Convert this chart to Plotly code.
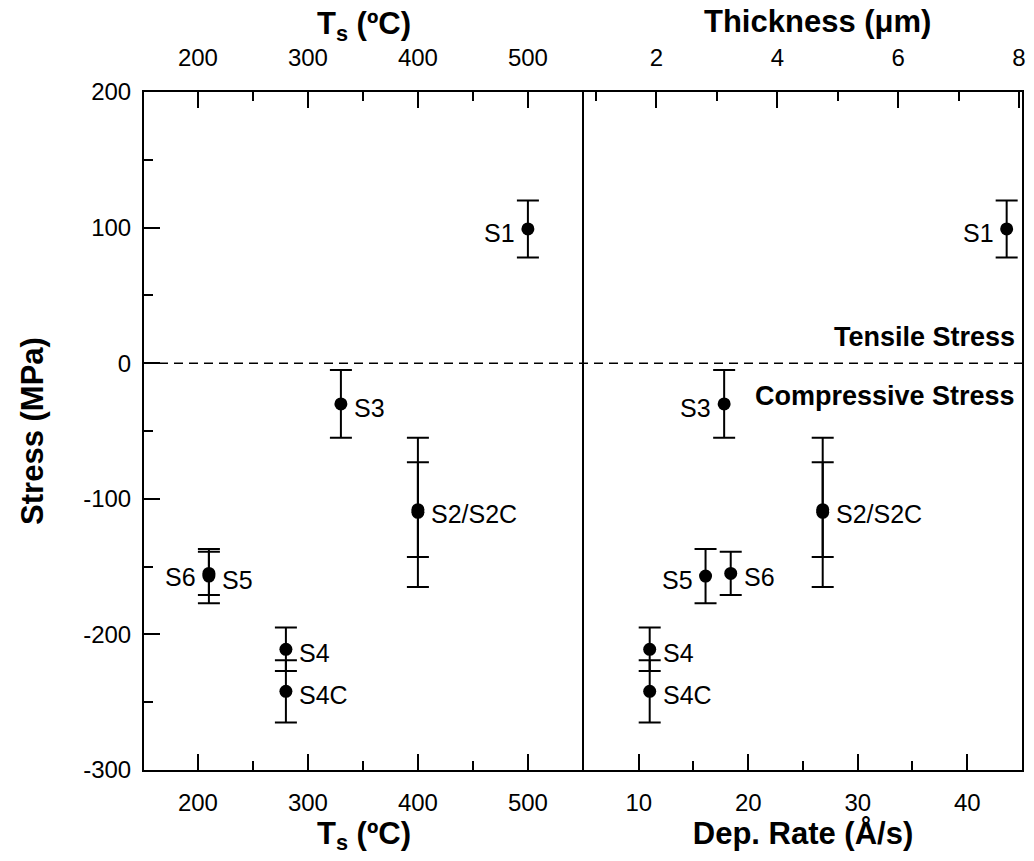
import plotly.graph_objects as go

# ---- data ----
samples = ["S1", "S2", "S2C", "S3", "S4", "S4C", "S5", "S6"]
ts_c = [500, 400, 400, 330, 280, 280, 210, 210]            # substrate temperature (ºC)
dep_rate = [43.6, 26.8, 26.8, 17.8, 11.0, 11.0, 16.1, 18.4]  # deposition rate (Å/s)
stress = [99, -108, -110, -30, -211, -242, -157, -155]      # MPa
stress_err = [21, 35, 55, 25, 16, 23, 20, 16]                # MPa

ts_ticks = [200, 300, 400, 500]
ts_minor = [250, 350, 450, 550]
rate_ticks = [10, 20, 30, 40]
rate_minor = [5, 15, 25, 35]
thick_ticks = [2, 4, 6, 8]
thick_minor = [1, 3, 5, 7]
stress_ticks = [-300, -200, -100, 0, 100, 200]
stress_minor = [-250, -150, -50, 50, 150]

# label placement (which side of the point each label sits)
left_labels = [("S1", 0, "l"), ("S2/S2C", 1, "r"), ("S3", 3, "r"), ("S4", 4, "r"),
               ("S4C", 5, "r"), ("S5", 6, "r"), ("S6", 7, "l")]
right_labels = [("S1", 0, "l"), ("S2/S2C", 1, "r"), ("S3", 3, "l"), ("S4", 4, "r"),
                ("S4C", 5, "r"), ("S5", 6, "l"), ("S6", 7, "r")]

FONT = "Liberation Sans, Arial, Helvetica, sans-serif"
BLACK = "black"
SPLIT = 442 / 882

fig = go.Figure()

err_style = dict(type="data", thickness=2, width=11, color=BLACK)
fig.add_trace(go.Scatter(x=ts_c, y=stress, mode="markers", xaxis="x", yaxis="y",
                         marker=dict(color=BLACK, size=13),
                         error_y=dict(array=stress_err, **err_style),
                         showlegend=False, hoverinfo="skip"))
fig.add_trace(go.Scatter(x=dep_rate, y=stress, mode="markers", xaxis="x3", yaxis="y2",
                         marker=dict(color=BLACK, size=13),
                         error_y=dict(array=stress_err, **err_style),
                         showlegend=False, hoverinfo="skip"))
# empty traces so that the top axes are drawn
fig.add_trace(go.Scatter(x=[], y=[], xaxis="x2", yaxis="y", showlegend=False))
fig.add_trace(go.Scatter(x=[], y=[], xaxis="x4", yaxis="y2", showlegend=False))

tickfont = dict(family=FONT, size=24, color=BLACK)
titlefont = dict(family=FONT, size=31, color=BLACK)

common_x = dict(showline=True, linecolor=BLACK, linewidth=2, ticks="inside", ticklen=16,
                tickwidth=1.5, tickcolor=BLACK, showgrid=False, zeroline=False,
                tickfont=tickfont, tickmode="array")
minor_style = dict(ticks="inside", ticklen=9, tickwidth=1.5, tickcolor=BLACK, tickmode="array")

ts_range = [151, 551]
rate_range = [5, 45]
thick_range = [0.8, 8.05]

fig.update_layout(
    width=1034, height=861,
    margin=dict(l=144, r=8, t=92, b=91),
    paper_bgcolor="white", plot_bgcolor="white",
    font=dict(family=FONT, color=BLACK),
    xaxis=dict(domain=[0, SPLIT], range=ts_range, anchor="y", side="bottom",
               tickvals=ts_ticks, minor=dict(tickvals=ts_minor, **minor_style),
               title=dict(text="<b>T<sub>s</sub> (ºC)</b>", font=titlefont, standoff=6),
               ticklabelstandoff=10, **common_x),
    xaxis2=dict(domain=[0, SPLIT], range=ts_range, anchor="y", side="top", overlaying="x",
                tickvals=ts_ticks, minor=dict(tickvals=ts_minor, **minor_style),
                ticklabelstandoff=14, **common_x),
    xaxis3=dict(domain=[SPLIT, 1], range=rate_range, anchor="y2", side="bottom",
                tickvals=rate_ticks, minor=dict(tickvals=rate_minor, **minor_style),
                title=dict(text="<b>Dep. Rate (Å/s)</b>", font=titlefont, standoff=6),
                ticklabelstandoff=10, **common_x),
    xaxis4=dict(domain=[SPLIT, 1], range=thick_range, anchor="y2", side="top", overlaying="x3",
                tickvals=thick_ticks, minor=dict(tickvals=thick_minor, **minor_style),
                ticklabelstandoff=14, **common_x),
    yaxis=dict(range=[-300, 200], anchor="x", showline=True, mirror=False, linecolor=BLACK,
               linewidth=2, ticks="inside", ticklen=16, tickwidth=1.5, tickcolor=BLACK,
               tickmode="array", tickvals=stress_ticks,
               ticktext=[str(v) for v in stress_ticks], tickfont=tickfont,
               minor=dict(tickvals=stress_minor, **minor_style),
               showgrid=False, zeroline=False, ticklabelstandoff=6,
               title=dict(text="<b>Stress (MPa)</b>", font=titlefont, standoff=30)),
    yaxis2=dict(range=[-300, 200], anchor="x3", matches="y", showline=True, mirror=True,
                linecolor=BLACK, linewidth=2, ticks="", showticklabels=False,
                showgrid=False, zeroline=False),
)

# top axis titles (placed as text above each panel)
fig.add_annotation(x=SPLIT / 2, y=1 + (92 - 26) / 678, xref="paper", yref="paper",
                   text="<b>T<sub>s</sub> (ºC)</b>", showarrow=False, font=titlefont,
                   xanchor="center", yanchor="middle")
fig.add_annotation(x=(821 - 144) / 882, y=1 + (92 - 22) / 678, xref="paper", yref="paper",
                   text="<b>Thickness (μm)</b>", showarrow=False, font=titlefont,
                   xanchor="center", yanchor="middle")

# dashed zero line across both panels
fig.add_shape(type="line", xref="paper", yref="y", x0=0, x1=1, y0=0, y1=0,
              line=dict(color=BLACK, width=1.5, dash="9px,6px"))

labfont = dict(family=FONT, size=25, color=BLACK)
def add_labels(items, xs, xref, yref):
    for text, i, side in items:
        fig.add_annotation(x=xs[i], y=stress[i], xref=xref, yref=yref, text=text,
                           showarrow=False, font=labfont,
                           xanchor="right" if side == "l" else "left",
                           xshift=-11 if side == "l" else 11, yshift=-4)

add_labels(left_labels, ts_c, "x", "y")
add_labels(right_labels, dep_rate, "x3", "y2")

notefont = dict(family=FONT, size=27, color=BLACK)
fig.add_annotation(x=44.5, y=19, xref="x3", yref="y2", text="<b>Tensile Stress</b>",
                   showarrow=False, xanchor="right", font=notefont)
fig.add_annotation(x=44.5, y=-24, xref="x3", yref="y2", text="<b>Compressive Stress</b>",
                   showarrow=False, xanchor="right", font=notefont)

fig.write_html("out.html", config={"displayModeBar": False},
               post_script="document.body.style.margin='0';document.body.style.overflow='hidden';")
